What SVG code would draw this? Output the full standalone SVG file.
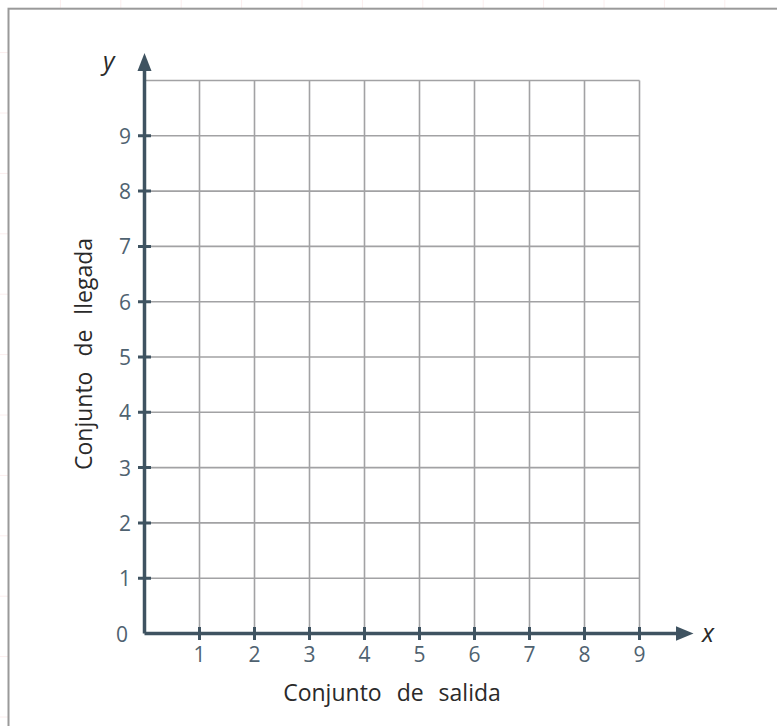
<svg xmlns="http://www.w3.org/2000/svg" width="777" height="726" viewBox="0 0 777 726">
<defs>
<style>
.bg{stroke:#fbeeee;stroke-width:1}
.frame{fill:#ffffff;stroke:#9a9a9a;stroke-width:2}
.grid{stroke:#a2a2a4;stroke-width:1.6;fill:none}
.axis{stroke:#3f5361;stroke-width:3.5;fill:none}
.tick{stroke:#3f5361;stroke-width:3;fill:none}
.head{fill:#3f5361}
.num{font-family:"Open Sans","Liberation Sans",sans-serif;font-size:21px;fill:#4f6270}
.lab{font-family:"Open Sans","Liberation Sans",sans-serif;font-size:23px;fill:#2a2a2a;word-spacing:9px}
.var{font-family:"Open Sans","Liberation Sans",sans-serif;font-size:25px;font-style:italic;fill:#2a2a2a}
</style>
</defs>
<g id="background">
<path class="bg" d="M60.4 0V726M120.8 0V726M181.2 0V726M241.6 0V726M302 0V726M362.4 0V726M422.8 0V726M483.2 0V726M543.6 0V726M604 0V726M664.4 0V726M724.8 0V726M0 52.6H777M0 113H777M0 173.4H777M0 233.8H777M0 294.2H777M0 354.6H777M0 415H777M0 475.4H777M0 535.8H777M0 596.2H777M0 656.6H777M0 717H777"/>
<rect class="frame" x="8.5" y="8.7" width="800" height="760"/>
</g>
<g id="grid">
<path class="grid" d="M199.5 80.5V633.5M254.5 80.5V633.5M309.5 80.5V633.5M364.5 80.5V633.5M419.5 80.5V633.5M474.5 80.5V633.5M529.5 80.5V633.5M584.5 80.5V633.5M639.5 80.5V633.5M144.5 80.5H639.5M144.5 135.8H639.5M144.5 191.1H639.5M144.5 246.4H639.5M144.5 301.7H639.5M144.5 357H639.5M144.5 412.3H639.5M144.5 467.6H639.5M144.5 522.9H639.5M144.5 578.2H639.5"/>
</g>
<g id="axes">
<path class="axis" d="M144.5 633.5V68M144.5 633.5H679"/>
<polygon class="head" points="144.5,53 137.5,71 151.5,71"/>
<polygon class="head" points="693.5,633.5 676,626.3 676,640.7"/>
<path class="tick" d="M199.5 627V640M254.5 627V640M309.5 627V640M364.5 627V640M419.5 627V640M474.5 627V640M529.5 627V640M584.5 627V640M639.5 627V640M138 135.8H151M138 191.1H151M138 246.4H151M138 301.7H151M138 357H151M138 412.3H151M138 467.6H151M138 522.9H151M138 578.2H151"/>
</g>
<g id="x-labels" class="num" text-anchor="middle">
<text x="199.5" y="662">1</text>
<text x="254.5" y="662">2</text>
<text x="309.5" y="662">3</text>
<text x="364.5" y="662">4</text>
<text x="419.5" y="662">5</text>
<text x="474.5" y="662">6</text>
<text x="529.5" y="662">7</text>
<text x="584.5" y="662">8</text>
<text x="639.5" y="662">9</text>
</g>
<g id="y-labels" class="num" text-anchor="end">
<text x="128" y="642">0</text>
<text x="131" y="586">1</text>
<text x="131" y="531">2</text>
<text x="131" y="476">3</text>
<text x="131" y="420">4</text>
<text x="131" y="365">5</text>
<text x="131" y="310">6</text>
<text x="131" y="254">7</text>
<text x="131" y="199">8</text>
<text x="131" y="144">9</text>
</g>
<g id="axis-titles">
<text class="var" x="103" y="70">y</text>
<text class="var" x="702" y="642">x</text>
<text class="lab" x="392" y="701" text-anchor="middle">Conjunto de salida</text>
<text class="lab" x="354" y="92" text-anchor="middle" transform="rotate(-90 92 354) translate(-262 262)">Conjunto de llegada</text>
</g>
</svg>
